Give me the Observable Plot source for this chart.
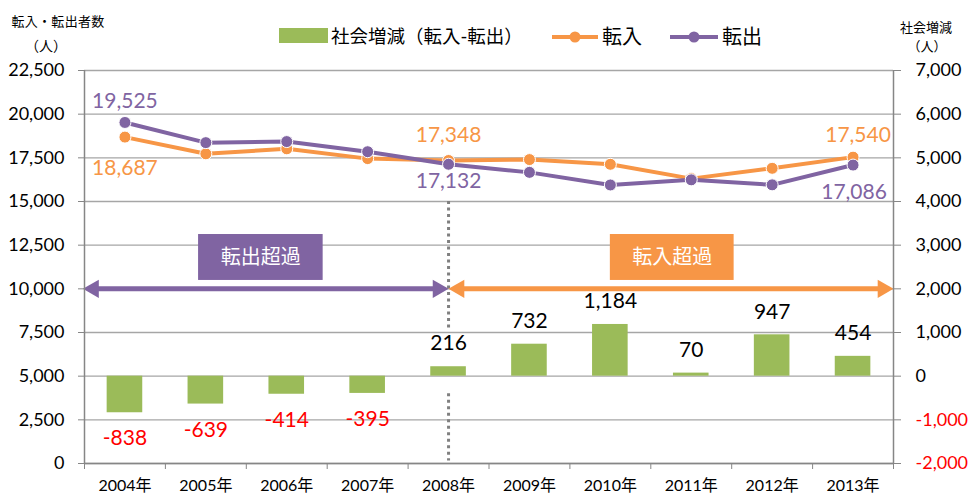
<!DOCTYPE html>
<html><head><meta charset="utf-8">
<script src="https://cdn.jsdelivr.net/npm/d3@7"></script>
<script src="https://cdn.jsdelivr.net/npm/@observablehq/plot@0.6"></script>
<style>
body{margin:0;background:#fff;}
#wrap{position:relative;width:975px;height:497px;font-family:Lato,"Noto Sans CJK JP",sans-serif;color:#000;}
.abs{position:absolute;white-space:nowrap;line-height:1;transform:translateY(-50%);}
.ctr{transform:translate(-50%,-50%);}
</style></head><body><div id="wrap"></div>
<script>
// ---- data ----
const years = ["2004年","2005年","2006年","2007年","2008年","2009年","2010年","2011年","2012年","2013年"];
const inflow  = [18687, 17731, 18016, 17455, 17348, 17400, 17130, 16310, 16900, 17540]; // 転入
const outflow = [19525, 18370, 18430, 17850, 17132, 16668, 15946, 16240, 15953, 17086]; // 転出
const netChange = [-838, -639, -414, -395, 216, 732, 1184, 70, 947, 454];              // 社会増減
const leftTicks  = [0, 2500, 5000, 7500, 10000, 12500, 15000, 17500, 20000, 22500];
const rightTicks = [-2000, -1000, 0, 1000, 2000, 3000, 4000, 5000, 6000, 7000];
const splitYear = "2008年";

const C_IN = "#F79646", C_OUT = "#8064A2", C_NET = "#9BBB59", C_AX = "#868686", C_GRID = "#A6A6A6";
const fmt0 = d3.format(",");
const fmt = v => fmt0(v).replace("\u2212", "-");
// secondary axis: right value -> left value (0 on right == 5,000 on left; 1,000 == 2,500)
const toLeft = v => 5000 + v * 2.5;
const fromLeft = v => (v - 5000) / 2.5;

const rows = years.map((y, i) => ({i, year: y, inflow: inflow[i], outflow: outflow[i], net: netChange[i]}));
const xc = d => d.i + 0.5;
const split = years.indexOf(splitYear) + 0.5;
const bounds = d3.range(0, years.length + 1);

function pointLabel(key, color, year, dy, dx = 0) {
  return Plot.text(rows.filter(d => d.year === year), {
    x: xc, y: key, text: d => fmt(d[key]), dy, dx, fill: color, fontSize: 21
  });
}

const chart = Plot.plot({
  width: 975, height: 497,
  marginLeft: 84, marginRight: 82, marginTop: 70, marginBottom: 34,
  style: {fontFamily: 'Lato, "Noto Sans CJK JP", sans-serif', background: "white", color: "#000"},
  x: {type: "linear", domain: [0, years.length], axis: null},
  y: {domain: [0, 22500], axis: null},
  marks: [
    Plot.gridY(leftTicks, {stroke: C_GRID, strokeOpacity: 1, strokeWidth: 1.3}),
    // bars (secondary axis)
    Plot.rect(rows, {x1: d => d.i + 0.28, x2: d => d.i + 0.72, y1: () => toLeft(0), y2: d => toLeft(d.net), fill: C_NET}),
    // dotted divider
    Plot.ruleX([split], {y1: 15000, y2: 7600, stroke: "#808080", strokeWidth: 3, strokeDasharray: "3,3.5"}),
    Plot.ruleX([split], {y1: 4000, y2: 150, stroke: "#808080", strokeWidth: 3, strokeDasharray: "3,3.5"}),
    // arrows
    Plot.ruleY([10000], {x1: 0, x2: split, stroke: C_OUT, strokeWidth: 5, insetLeft: 8, insetRight: 8}),
    Plot.ruleY([10000], {x1: split, x2: years.length, stroke: C_IN, strokeWidth: 5, insetLeft: 8, insetRight: 8}),
    Plot.dot([0], {x: d => d, y: () => 10000, symbol: "triangle", rotate: -90, r: 6.8, fill: C_OUT, dx: 9}),
    Plot.dot([split], {x: d => d, y: () => 10000, symbol: "triangle", rotate: 90, r: 6.8, fill: C_OUT, dx: -10.5}),
    Plot.dot([split], {x: d => d, y: () => 10000, symbol: "triangle", rotate: -90, r: 6.8, fill: C_IN, dx: 10.5}),
    Plot.dot([years.length], {x: d => d, y: () => 10000, symbol: "triangle", rotate: 90, r: 6.8, fill: C_IN, dx: -10.5}),
    // boxes
    Plot.rect([{x1: 1.41, x2: 2.95, y1: 10480, y2: 13110, c: C_OUT}, {x1: 6.50, x2: 8.03, y1: 10480, y2: 13110, c: C_IN}],
      {x1: "x1", x2: "x2", y1: "y1", y2: "y2", fill: "c"}),
    Plot.text([{x: 2.18, t: "転出超過"}, {x: 7.265, t: "転入超過"}], {x: "x", y: () => 11795, text: "t", fill: "white", fontSize: 20}),
    // lines
    Plot.line(rows, {x: xc, y: "inflow", stroke: C_IN, strokeWidth: 4}),
    Plot.dot(rows, {x: xc, y: "inflow", r: 6, fill: C_IN, stroke: "white", strokeWidth: 1}),
    Plot.line(rows, {x: xc, y: "outflow", stroke: C_OUT, strokeWidth: 4}),
    Plot.dot(rows, {x: xc, y: "outflow", r: 6, fill: C_OUT, stroke: "white", strokeWidth: 1}),
    // line labels
    pointLabel("outflow", C_OUT, "2004年", -21),
    pointLabel("outflow", C_OUT, "2008年", 17),
    pointLabel("outflow", C_OUT, "2013年", 27, 1),
    pointLabel("inflow", C_IN, "2004年", 31),
    pointLabel("inflow", C_IN, "2008年", -25),
    pointLabel("inflow", C_IN, "2013年", -22, 5),
    // bar labels
    Plot.text(rows.filter(d => d.net < 0), {x: xc, y: d => toLeft(d.net), text: d => fmt(d.net), dy: 26, fill: "#FF0000", fontSize: 21}),
    Plot.text(rows.filter(d => d.net >= 0), {x: xc, y: d => toLeft(d.net), text: d => fmt(d.net), dy: -23, fill: "#000", fontSize: 21}),
    // axes
    Plot.ruleX([0, years.length], {stroke: C_AX, strokeWidth: 1.5}),
    Plot.ruleY([0], {stroke: C_AX, strokeWidth: 1.5}),
    Plot.axisY(leftTicks, {anchor: "left", tickSize: 6, tickPadding: 14, stroke: C_AX, fill: "#000", fontSize: 18, tickFormat: fmt, label: null}),
    Plot.axisY(rightTicks.map(toLeft), {anchor: "right", tickSize: 7, tickPadding: 15, stroke: C_AX, fontSize: 18,
      tickFormat: v => fmt(fromLeft(v)), fill: v => fromLeft(v) < 0 ? "#FF0000" : "#000", label: null}),
    Plot.axisX(rows.map(xc), {anchor: "bottom", tickSize: 0, tickPadding: 16, fontSize: 16, fill: "#000",
      tickFormat: v => years[Math.floor(v)], label: null}),
    Plot.axisX(bounds, {anchor: "bottom", tickSize: 6, stroke: C_AX, tickFormat: () => "", label: null})
  ]
});

const wrap = document.getElementById("wrap");
wrap.appendChild(chart);
chart.style.position = "absolute"; chart.style.left = "0"; chart.style.top = "0";

function addText(txt, left, top, size, cls = "abs") {
  const d = document.createElement("div");
  d.className = cls === "ctr" ? "abs ctr" : "abs";
  d.textContent = txt;
  d.style.left = left + "px"; d.style.top = top + "px"; d.style.fontSize = size + "px";
  wrap.appendChild(d);
  return d;
}
function addSwatchLine(color, left, top, w) {
  const ns = "http://www.w3.org/2000/svg";
  const s = document.createElementNS(ns, "svg");
  s.setAttribute("width", w); s.setAttribute("height", 14);
  s.style.position = "absolute"; s.style.left = left + "px"; s.style.top = (top - 7) + "px";
  const l = document.createElementNS(ns, "line");
  l.setAttribute("x1", 0); l.setAttribute("x2", w); l.setAttribute("y1", 7); l.setAttribute("y2", 7);
  l.setAttribute("stroke", color); l.setAttribute("stroke-width", 4);
  const c = document.createElementNS(ns, "circle");
  c.setAttribute("cx", w / 2); c.setAttribute("cy", 7); c.setAttribute("r", 5.5); c.setAttribute("fill", color);
  s.appendChild(l); s.appendChild(c); wrap.appendChild(s);
}
// axis titles
const t1 = addText("転入・転出者数", 58, 21, 13, "ctr");
t1.style.letterSpacing = "0.3px";
addText("（人）", 46, 46, 14, "ctr");
addText("社会増減", 926, 27, 13, "ctr");
addText("（人）", 927, 46, 13, "ctr");
// legend
const sw = document.createElement("div");
Object.assign(sw.style, {position: "absolute", left: "279px", top: "28px", width: "49px", height: "15px", background: C_NET});
wrap.appendChild(sw);
addText("社会増減（転入-転出）", 331, 36, 18.5);
addSwatchLine(C_IN, 552, 37, 46);
addText("転入", 602, 36, 20);
addSwatchLine(C_OUT, 670, 37, 48);
addText("転出", 722, 36, 20);
</script></body></html>
